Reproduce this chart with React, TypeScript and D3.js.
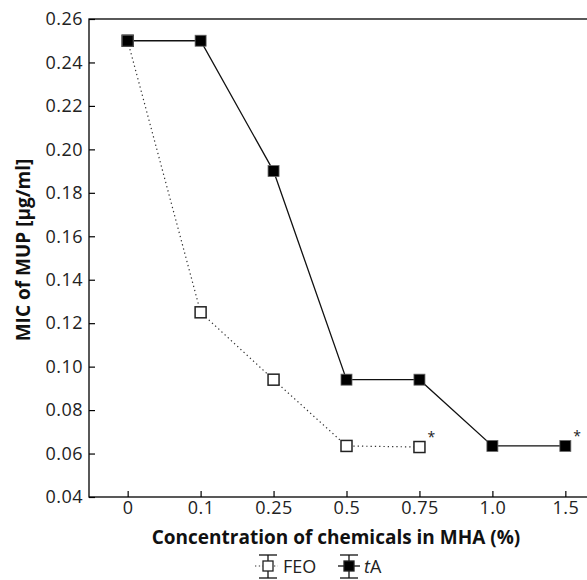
import React, { useEffect, useRef } from 'react';
import * as d3 from 'd3';

const concentrations = ['0', '0.1', '0.25', '0.5', '0.75', '1.0', '1.5'];
const feoValues = [0.25, 0.125, 0.094, 0.0635, 0.063];
const taValues = [0.25, 0.25, 0.19, 0.094, 0.094, 0.0635, 0.0635];
const yTicks = [0.04, 0.06, 0.08, 0.1, 0.12, 0.14, 0.16, 0.18, 0.2, 0.22, 0.24, 0.26];
const feoStars = ['0.75'];
const taStars = ['1.5'];

export default function App() {
  const svgRef = useRef<SVGSVGElement>(null);

  useEffect(() => {
    const svg = d3.select(svgRef.current);
    svg.selectAll('*').remove();
    const font = '"Open Sans", sans-serif';
    const left = 89;
    const right = 604;
    const top = 19;
    const bottom = 497;

    const x = d3.scalePoint<string>().domain(concentrations).range([left, right]).padding(0.53);
    const y = d3.scaleLinear().domain([0.04, 0.26]).range([bottom, top]);

    // frame
    svg
      .append('rect')
      .attr('x', left)
      .attr('y', top)
      .attr('width', right - left)
      .attr('height', bottom - top)
      .attr('fill', 'none')
      .attr('stroke', '#000')
      .attr('stroke-width', 1.3);

    // axes
    const yAxis = d3
      .axisLeft(y)
      .tickValues(yTicks)
      .tickFormat((d) => (d as number).toFixed(2))
      .tickSizeInner(-6)
      .tickSizeOuter(0)
      .tickPadding(6);
    const gy = svg.append('g').attr('transform', `translate(${left},0)`).call(yAxis);
    gy.select('.domain').remove();
    gy.selectAll('line').attr('stroke', '#000').attr('stroke-width', 1.2);
    gy.selectAll('text')
      .attr('font-family', font)
      .attr('font-size', 18)
      .attr('letter-spacing', 0.5)
      .attr('fill', '#222');

    const xAxis = d3.axisBottom(x).tickSizeInner(-6).tickSizeOuter(0).tickPadding(4);
    const gx = svg.append('g').attr('transform', `translate(0,${bottom})`).call(xAxis);
    gx.select('.domain').remove();
    gx.selectAll('line').attr('stroke', '#000').attr('stroke-width', 1.2);
    gx.selectAll('text')
      .attr('font-family', font)
      .attr('font-size', 18)
      .attr('letter-spacing', 0.5)
      .attr('fill', '#222');

    // titles
    svg
      .append('text')
      .attr('x', 336)
      .attr('y', 544)
      .attr('text-anchor', 'middle')
      .attr('font-family', font)
      .attr('font-size', 19)
      .attr('font-weight', 'bold')
      .attr('fill', '#111')
      .text('Concentration of chemicals in MHA (%)');

    svg
      .append('text')
      .attr('transform', `translate(30,250) rotate(-90)`)
      .attr('text-anchor', 'middle')
      .attr('font-family', font)
      .attr('font-size', 19)
      .attr('font-weight', 'bold')
      .attr('fill', '#111')
      .text('MIC of MUP [μg/ml]');

    const line = d3
      .line<number>()
      .x((_, i) => x(concentrations[i]) as number)
      .y((d) => y(d));

    // FEO dotted
    svg
      .append('path')
      .attr('d', line(feoValues))
      .attr('fill', 'none')
      .attr('stroke', '#333')
      .attr('stroke-width', 1.2)
      .attr('stroke-dasharray', '1.3,3');

    // tA solid
    svg
      .append('path')
      .attr('d', line(taValues))
      .attr('fill', 'none')
      .attr('stroke', '#111')
      .attr('stroke-width', 1.3);

    const s = 11;
    svg
      .selectAll('.feo')
      .data(feoValues)
      .enter()
      .append('rect')
      .attr('x', (_, i) => (x(concentrations[i]) as number) - s / 2)
      .attr('y', (d) => y(d) - s / 2)
      .attr('width', s)
      .attr('height', s)
      .attr('fill', '#fff')
      .attr('stroke', '#222')
      .attr('stroke-width', 1.5);

    svg
      .selectAll('.ta')
      .data(taValues)
      .enter()
      .append('rect')
      .attr('x', (_, i) => (x(concentrations[i]) as number) - s / 2)
      .attr('y', (d) => y(d) - s / 2)
      .attr('width', s)
      .attr('height', s)
      .attr('fill', '#000')
      .attr('stroke', '#666')
      .attr('stroke-width', 0.8);

    // asterisks
    const stars = [
      ...feoStars.map((c) => ({ c, v: feoValues[concentrations.indexOf(c)] })),
      ...taStars.map((c) => ({ c, v: taValues[concentrations.indexOf(c)] })),
    ];
    svg
      .selectAll('.star')
      .data(stars)
      .enter()
      .append('text')
      .attr('x', (d) => (x(d.c) as number) + 8)
      .attr('y', (d) => y(d.v) - 5)
      .attr('font-family', font)
      .attr('font-size', 14)
      .attr('fill', '#222')
      .text('*');

    // legend
    const legend = [
      { name: 'FEO', cx: 268, filled: false },
      { name: 'tA', cx: 349, filled: true },
    ];
    const ly = 566;
    legend.forEach((d) => {
      const g = svg.append('g');
      if (!d.filled) {
        g.append('line')
          .attr('x1', d.cx - 13)
          .attr('x2', d.cx + 10)
          .attr('y1', ly)
          .attr('y2', ly)
          .attr('stroke', '#333')
          .attr('stroke-width', 1.2)
          .attr('stroke-dasharray', '1.3,2.5');
      } else {
        g.append('line')
          .attr('x1', d.cx - 11)
          .attr('x2', d.cx + 11)
          .attr('y1', ly)
          .attr('y2', ly)
          .attr('stroke', '#111')
          .attr('stroke-width', 1.3);
      }
      g.append('line')
        .attr('x1', d.cx)
        .attr('x2', d.cx)
        .attr('y1', ly - 11)
        .attr('y2', ly + 12)
        .attr('stroke', '#111')
        .attr('stroke-width', 1.3);
      [ly - 11, ly + 12].forEach((yy) => {
        g.append('line')
          .attr('x1', d.cx - 9)
          .attr('x2', d.cx + 9)
          .attr('y1', yy)
          .attr('y2', yy)
          .attr('stroke', '#111')
          .attr('stroke-width', 1.3);
      });
      g.append('rect')
        .attr('x', d.cx - 5)
        .attr('y', ly - 5)
        .attr('width', 10)
        .attr('height', 10)
        .attr('fill', d.filled ? '#000' : '#fff')
        .attr('stroke', '#222')
        .attr('stroke-width', 1.3);
      const t = g
        .append('text')
        .attr('x', d.cx + 15)
        .attr('y', ly + 7)
        .attr('font-family', font)
        .attr('font-size', 18)
        .attr('fill', '#222');
      if (d.name === 'tA') {
        t.append('tspan').attr('font-style', 'italic').text('t');
        t.append('tspan').text('A');
      } else {
        t.text(d.name);
      }
    });
  }, []);

  return (
    <svg
      ref={svgRef}
      width="587"
      height="580"
      style={{ position: 'absolute', left: 0, top: 0, background: '#fff' }}
    ></svg>
  );
}
